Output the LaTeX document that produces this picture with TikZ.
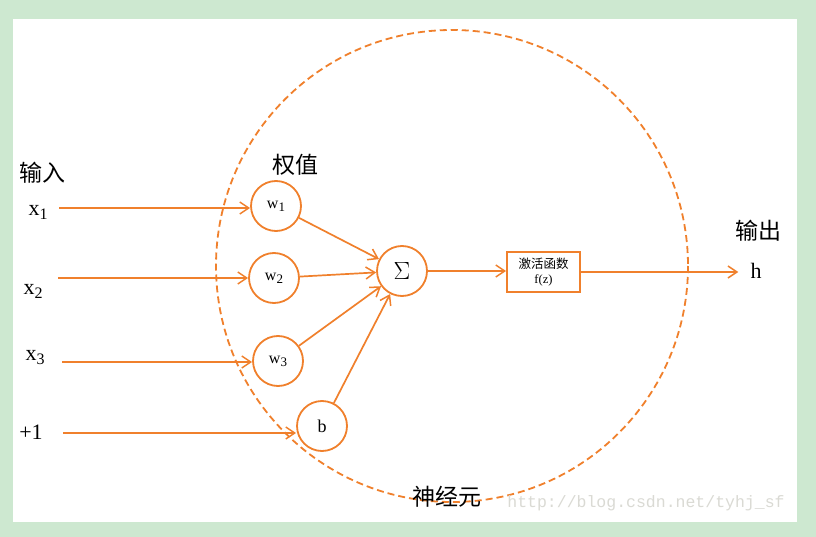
\documentclass[tikz,border=0pt]{standalone}
\usepackage{fontspec}
\setmainfont{Liberation Serif}
\newfontfamily\cjk{Noto Sans CJK SC}
\newfontfamily\monof{Liberation Mono}
\usetikzlibrary{arrows.meta}
\definecolor{org}{RGB}{240,128,44}
\definecolor{bg}{RGB}{205,232,208}
\definecolor{wm}{RGB}{218,218,212}
\tikzset{
  neuron/.style={circle,draw=org,line width=1.8pt,minimum size=50pt,inner sep=0pt},
  conn/.style={draw=org,line width=1.7pt,-{Straight Barb[length=9pt,width=12pt,line width=1.5pt]}},
  cjklabel/.style={font=\cjk\fontsize{23}{26}\selectfont,inner sep=0pt},
  xlabel/.style={font=\fontsize{22}{24}\selectfont,inner sep=0pt},
}
\newcommand{\sbs}[1]{\raisebox{-4pt}{\fontsize{16}{18}\selectfont #1}}
\newcommand{\sbn}[1]{\raisebox{-3pt}{\fontsize{13}{14}\selectfont #1}}
\begin{document}
\begin{tikzpicture}[x=1pt,y=-1pt]
\fill[bg] (0,0) rectangle (816,537);
\fill[white] (13,19) rectangle (797,522);
\useasboundingbox (0,0) rectangle (816,537);
% big dashed circle
\draw[org,line width=1.8pt,dash pattern=on 7pt off 4pt] (452,266) circle[radius=236];
% weights
\node[neuron] (w1) at (276,206) {\fontsize{16}{17}\selectfont w\sbn{1}};
\node[neuron] (w2) at (274,278) {\fontsize{16}{17}\selectfont w\sbn{2}};
\node[neuron] (w3) at (278,361) {\fontsize{16}{17}\selectfont w\sbn{3}};
\node[neuron] (b) at (322,426) {\fontsize{18}{19}\selectfont b};
\node[neuron] (sum) at (402,271) {\fontsize{25}{27}\selectfont $\Sigma$};
\node[draw=org,line width=1.8pt,minimum width=73pt,minimum height=40pt,inner sep=0pt,align=center,font=\fontsize{12.5}{15}\selectfont] (act) at (543.5,272)
  {{\cjk 激活函数}\\f(z)};
% labels
\node[cjklabel] (in) at (42,173) {输入};
\node[cjklabel] (wt) at (295,165) {权值};
\node[cjklabel] (out) at (758,231) {输出};
\node[cjklabel] (neu) at (447,497) {神经元};
\node[xlabel] (x1) at (38,212) {x\sbs{1}};
\node[xlabel] (x2) at (33,291) {x\sbs{2}};
\node[xlabel] (x3) at (35,358) {x\sbs{3}};
\node[xlabel] (p1) at (31,432) {+1};
\node[xlabel] (h) at (756,271) {h};
\node[font=\monof\fontsize{16.5}{18}\selectfont,text=wm,inner sep=0pt] (url) at (646,503) {http://blog.csdn.net/tyhj\_sf};
% input start points
\coordinate (s1) at (59,208);
\coordinate (s2) at (58,278);
\coordinate (s3) at (62,362);
\coordinate (s4) at (63,433);
\draw[conn] (s1) -- (s1 -| w1.west);
\draw[conn] (s2) -- (s2 -| w2.west);
\draw[conn] (s3) -- (s3 -| w3.west);
\draw[conn] (s4) -- (s4 -| b.west);
% to sum
\draw[conn] (w1) -- (sum);
\draw[conn] (w2) -- (sum);
\draw[conn] (w3) -- (sum);
\draw[conn] (b) -- (sum);
\draw[conn] (sum.east) -- (sum.east -| act.west);
\draw[conn,shorten >=12pt] (act.east) -- (act.east -| h.west);
\end{tikzpicture}
\end{document}
